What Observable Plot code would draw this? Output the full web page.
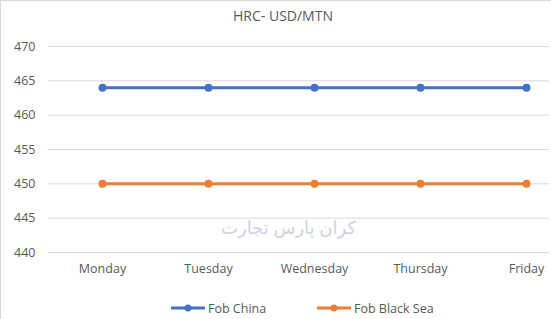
<!DOCTYPE html>
<html><head><meta charset="utf-8">
<script src="https://cdn.jsdelivr.net/npm/d3@7"></script>
<script src="https://cdn.jsdelivr.net/npm/@observablehq/plot@0.6"></script>
<style>
body{margin:0;background:#fff;font-family:"Open Sans","Liberation Sans",sans-serif;overflow:hidden}
#wrap{position:relative;width:551px;height:319px;box-sizing:border-box;border-left:1px solid #d9d9d9;border-top:1px solid #d9d9d9}
#title{height:29px;line-height:30px;text-align:center;font-size:14px;color:#595959;padding-left:14px}
#legend{position:absolute;top:297px;left:0;width:551px;height:20px;font-size:12.5px;color:#595959}
.lg{position:absolute;top:0;display:flex;align-items:center;height:20px}
.wm{position:absolute;left:220px;top:214px;font-size:18px;color:#cdd2e4;font-family:"Noto Sans","DejaVu Sans",sans-serif;direction:rtl}
</style></head><body>
<div id="wrap">
<div id="title">HRC- USD/MTN</div>
<div id="chart"></div>
<div class="wm">کران پارس تجارت</div>
<div id="legend"></div>
</div>
<script>
const days = ["Monday","Tuesday","Wednesday","Thursday","Friday"];
const fobChina = [464,464,464,464,464];
const fobBlackSea = [450,450,450,450,450];
const yTicks = [440,445,450,455,460,465,470];
const seriesNames = ["Fob China","Fob Black Sea"];
const colors = ["#4472C4","#ED7D31"];

const data = [];
days.forEach((d,i)=>{
  data.push({day:d, value:fobChina[i], series:seriesNames[0]});
  data.push({day:d, value:fobBlackSea[i], series:seriesNames[1]});
});

const chart = Plot.plot({
  width: 550,
  height: 250,
  marginTop: 16,
  marginBottom: 28,
  marginLeft: 47,
  marginRight: 2,
  style: {fontFamily: '"Open Sans","Liberation Sans",sans-serif', fontSize: "12.5px", color: "#595959", overflow: "visible"},
  x: {type: "point", domain: days, range: [100, 526], padding: 0, label: null, tickSize: 0, tickPadding: 12},
  y: {domain: [440, 470], ticks: yTicks, label: null, tickSize: 0, tickPadding: 13},
  color: {domain: seriesNames, range: colors},
  marks: [
    Plot.ruleY(yTicks, {stroke: "#d9d9d9", strokeWidth: 1}),
    Plot.line(data, {x: "day", y: "value", z: "series", stroke: "series", strokeWidth: 3}),
    Plot.dot(data, {x: "day", y: "value", fill: "series", r: 4})
  ]
});
document.getElementById("chart").appendChild(chart);

const legend = document.getElementById("legend");
const lx = [170, 316];
seriesNames.forEach((s,i)=>{
  const el = document.createElement("div");
  el.className = "lg";
  el.style.left = lx[i] + "px";
  el.innerHTML = `<svg width="36" height="10"><line x1="0" y1="5" x2="34" y2="5" stroke="${colors[i]}" stroke-width="3"/><circle cx="17" cy="5" r="3.5" fill="${colors[i]}"/></svg><span style="margin-left:1px">${s}</span>`;
  legend.appendChild(el);
});
</script>
</body></html>
